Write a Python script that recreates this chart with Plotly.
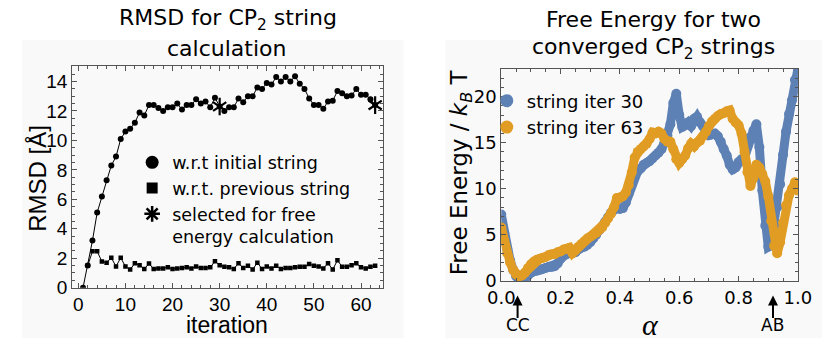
import plotly.graph_objects as go

# ============================================================
# Data
# ============================================================

# left panel: RMSD vs string iteration
iteration = list(range(1, 64))
rmsd_initial = [0.0, 1.5, 3.2, 5.1, 6.2, 7.3, 8.3, 8.9, 10.1, 10.6,
                10.8, 11.2, 11.9, 11.7, 12.4, 12.4, 12.2, 12.0, 12.25, 12.25,
                12.5, 12.1, 12.4, 12.4, 12.8, 12.5, 12.65, 12.25, 12.9, 12.3,
                12.0, 12.25, 12.25, 12.85, 12.6, 13.0, 13.0, 13.6, 13.5, 13.9,
                13.8, 14.3, 14.0, 14.3, 14.0, 14.35, 13.85, 13.5, 12.85, 12.4,
                12.4, 12.15, 12.65, 12.7, 13.35, 13.2, 13.0, 13.05, 13.5, 13.1,
                13.1, 12.8, 12.4]
iteration_prev = list(range(2, 64))
rmsd_previous = [1.5, 2.47, 2.47, 1.77, 1.7, 2.03, 1.44, 2.03, 1.44,
                 1.23, 1.66, 1.53, 1.27, 1.64, 1.27, 1.31, 1.31, 1.38, 1.27,
                 1.31, 1.33, 1.38, 1.31, 1.44, 1.33, 1.33, 1.38, 1.8, 1.53,
                 1.42, 1.38, 1.27, 1.66, 1.33, 1.49, 1.23, 1.7, 1.27, 1.44,
                 1.31, 1.49, 1.27, 1.33, 1.33, 1.38, 1.42, 1.42, 1.6, 1.49,
                 1.44, 1.31, 1.66, 1.23, 1.86, 1.42, 1.42, 1.53, 1.66, 1.38,
                 1.31, 1.42, 1.49]
selected_iter = [30, 63]
selected_rmsd = [rmsd_initial[i - 1] for i in selected_iter]

# right panel: free energy along the string coordinate alpha
alpha = [i / 100 for i in range(101)]
fe_iter30 = [7.2, 5.2, 3.5, 2.2, 1.2, 0.5, 0.1, 0.0, 0.2, 0.6,
             0.9, 1.1, 1.1, 1.2, 1.3, 1.4, 1.5, 1.5, 1.6, 1.9,
             2.4, 2.8, 2.9, 3.1, 3.0, 3.1, 3.4, 3.6, 3.7, 3.9,
             4.2, 4.6, 5.0, 5.5, 5.9, 6.4, 6.9, 7.4, 7.8, 7.9,
             7.8, 7.9, 8.5, 9.5, 10.5, 11.4, 11.9, 12.2, 12.6, 12.8,
             13.0, 13.3, 13.6, 13.9, 14.3, 15.0, 15.8, 17.0, 19.3, 20.3,
             18.0, 16.7, 16.9, 17.2, 16.8, 17.6, 17.8, 17.2, 16.8, 16.4,
             15.8, 15.9, 16.0, 15.7, 15.1, 14.3, 13.6, 12.6, 12.1, 12.3,
             12.9, 13.2, 13.4, 14.7, 15.6, 16.3, 17.0, 14.5, 9.8, 6.0,
             3.7, 3.9, 6.0, 8.0, 10.5, 13.7, 16.2, 18.1, 19.6, 21.8,
             23.0]
fe_iter63 = [5.8, 4.3, 3.0, 2.0, 1.2, 0.7, 0.5, 0.6, 0.9, 1.4,
             1.8, 2.1, 2.3, 2.4, 2.5, 2.6, 2.8, 2.9, 2.9, 3.1,
             3.2, 3.4, 3.5, 3.6, 3.0, 3.3, 3.7, 4.0, 4.3, 4.6,
             4.8, 5.0, 5.2, 5.5, 5.8, 6.3, 6.8, 7.3, 8.0, 9.0,
             9.0, 9.2, 9.6, 10.4, 11.8, 13.4, 14.0, 14.3, 14.6, 14.9,
             15.4, 16.1, 16.0, 16.2, 16.0, 15.4, 15.1, 15.1, 14.3, 13.2,
             12.8, 13.2, 13.6, 14.4, 14.9, 14.6, 15.0, 15.2, 15.7, 16.2,
             16.8, 17.3, 17.6, 17.9, 18.1, 18.2, 18.4, 18.5, 17.6, 17.2,
             16.9, 16.0, 14.0, 11.8, 10.3, 11.2, 12.6, 12.3, 11.6, 10.8,
             9.2, 6.5, 3.8, 3.0, 4.2, 6.3, 8.2, 9.3, 10.0, 10.7,
             9.8]
state_labels = ['CC', 'AB']
state_alpha = [0.055, 0.916]

BLUE = '#5e81b5'
ORANGE = '#e19c24'
FRAME = '#555555'
W, H = 830, 341


def px(x):
    return x / W


def py(y):
    return 1 - y / H


# ============================================================
# Figure
# ============================================================

fig = go.Figure()

# --- left: RMSD ---
fig.add_trace(go.Scatter(
    x=iteration_prev, y=rmsd_previous, mode='lines+markers',
    line=dict(color='black', width=1),
    marker=dict(symbol='square', size=4.5, color='black'),
    showlegend=False, xaxis='x', yaxis='y'))
fig.add_trace(go.Scatter(
    x=iteration, y=rmsd_initial, mode='lines+markers',
    line=dict(color='black', width=1),
    marker=dict(symbol='circle', size=6, color='black'),
    showlegend=False, xaxis='x', yaxis='y'))
for sym in ['y-up-open', 'y-down-open']:
    fig.add_trace(go.Scatter(
        x=selected_iter, y=selected_rmsd, mode='markers',
        marker=dict(symbol=sym, size=11, color='black',
                    line=dict(color='black', width=2.2)),
        showlegend=False, xaxis='x', yaxis='y'))

# legend entries (left)
fig.add_trace(go.Scatter(
    x=[None], y=[None], mode='markers', name='w.r.t initial string',
    marker=dict(symbol='circle', size=13, color='black'),
    legend='legend', xaxis='x', yaxis='y'))
fig.add_trace(go.Scatter(
    x=[None], y=[None], mode='markers', name='w.r.t. previous string',
    marker=dict(symbol='square', size=11, color='black'),
    legend='legend', xaxis='x', yaxis='y'))
fig.add_trace(go.Scatter(
    x=[None], y=[None], mode='markers',
    name='selected for free<br>energy calculation',
    marker=dict(symbol='asterisk-open', size=13, color='black',
                line=dict(color='black', width=2.5)),
    legend='legend', xaxis='x', yaxis='y'))

# --- right: free energy ---
fig.add_trace(go.Scatter(
    x=alpha, y=fe_iter30, mode='lines+markers',
    line=dict(color=BLUE, width=9),
    marker=dict(size=10, color=BLUE),
    showlegend=False, xaxis='x2', yaxis='y2'))
fig.add_trace(go.Scatter(
    x=alpha, y=fe_iter63, mode='lines+markers',
    line=dict(color=ORANGE, width=9),
    marker=dict(size=10, color=ORANGE),
    showlegend=False, xaxis='x2', yaxis='y2'))

# legend entries (right)
for nm, col in [('string iter 30', BLUE), ('string iter 63', ORANGE)]:
    fig.add_trace(go.Scatter(
        x=[None], y=[None], mode='markers', name=nm,
        marker=dict(symbol='circle', size=13, color=col),
        legend='legend2', xaxis='x2', yaxis='y2'))

frame = dict(showline=True, mirror='allticks', linecolor=FRAME, linewidth=1,
             ticks='inside', ticklen=5, tickcolor=FRAME, tickwidth=1,
             showgrid=False, zeroline=False)

left_font = dict(family='Liberation Sans', size=19, color='black')
right_font = dict(family='DejaVu Sans', size=18, color='black')

fig.update_layout(
    width=W, height=H,
    margin=dict(l=0, r=0, t=0, b=0),
    paper_bgcolor='white',
    plot_bgcolor='rgba(0,0,0,0)',
    xaxis=dict(frame, domain=[px(52), px(374)], range=[-1.29, 64.75],
               tickvals=[0, 10, 20, 30, 40, 50, 60], tickfont=left_font,
               minor=dict(dtick=2, ticklen=3, tickcolor=FRAME, ticks='inside'),
               anchor='y'),
    yaxis=dict(frame, domain=[py(289), py(60)], range=[0, 15.05],
               dtick=2, tickfont=left_font,
               minor=dict(dtick=0.5, ticklen=3, tickcolor=FRAME, ticks='inside'),
               anchor='x'),
    xaxis2=dict(frame, domain=[px(496), px(803)], range=[0, 1],
                dtick=0.2, tickformat='.1f', tickfont=right_font,
                minor=dict(dtick=0.05, ticklen=3, tickcolor=FRAME, ticks='inside'),
                anchor='y2'),
    yaxis2=dict(frame, domain=[py(282), py(63)], range=[0, 23],
                dtick=5, tickfont=right_font,
                minor=dict(dtick=1, ticklen=3, tickcolor=FRAME, ticks='inside'),
                anchor='x2'),
    legend=dict(x=px(114), y=py(141), xanchor='left', yanchor='top',
                bgcolor='rgba(0,0,0,0)', valign='top', itemsizing='trace',
                font=dict(family='DejaVu Sans', size=17.5, color='black')),
    legend2=dict(x=px(481), y=py(77), xanchor='left', yanchor='top',
                 bgcolor='rgba(0,0,0,0)', itemsizing='trace',
                 font=dict(family='DejaVu Sans', size=18, color='black')),
    shapes=[
        dict(type='rect', xref='paper', yref='paper', layer='below',
             x0=0, x1=px(395), y0=0, y1=py(33),
             fillcolor='#f9f9f9', line=dict(width=0)),
        dict(type='rect', xref='paper', yref='paper', layer='below',
             x0=px(438), x1=1, y0=0, y1=py(33),
             fillcolor='#f9f9f9', line=dict(width=0)),
    ],
)

title_font = dict(family='DejaVu Sans', size=22, color='black')
annotations = [
    dict(text='RMSD for CP<sub>2</sub> string', x=px(213), y=py(12),
         font=title_font),
    dict(text='calculation', x=px(212), y=py(41.5), font=title_font),
    dict(text='Free Energy for two', x=px(654), y=py(12), font=title_font),
    dict(text='converged CP<sub>2</sub> strings', x=px(654), y=py(41.5),
         font=title_font),
    dict(text='RMSD [Å]', x=px(16), y=py(176), textangle=-90,
         font=dict(family='Liberation Sans', size=24, color='black')),
    dict(text='iteration', x=px(212), y=py(328),
         font=dict(family='Liberation Sans', size=23, color='black')),
    dict(text='Free Energy / <i>k<sub>B</sub></i> T', x=px(454), y=py(170),
         textangle=-90, font=dict(family='DejaVu Sans', size=23, color='black')),
    dict(text='<i>α</i>', x=px(650), y=py(327),
         font=dict(family='Liberation Serif', size=30, color='black')),
]
for a in annotations:
    a.update(xref='paper', yref='paper', showarrow=False,
             xanchor='center', yanchor='middle')
fig.update_layout(annotations=annotations)

# state markers under the alpha axis: arrow plus label
for lab, xa in zip(state_labels, state_alpha):
    fig.add_annotation(
        text='', x=xa, xref='x2', y=py(297), yref='paper',
        ax=0, ay=24, showarrow=True, arrowhead=2, arrowsize=1,
        arrowwidth=2, arrowcolor='black', standoff=0)
    fig.add_annotation(
        text=lab, x=xa, xref='x2', y=py(328), yref='paper',
        showarrow=False, xanchor='center', yanchor='middle',
        font=dict(family='DejaVu Sans', size=17, color='black'))

fig.write_html("out.html")
